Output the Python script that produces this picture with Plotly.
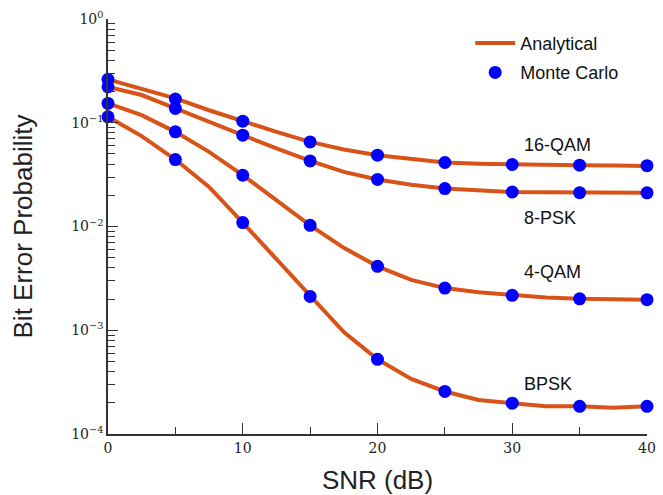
import math
import plotly.graph_objects as go

snr_fine = [0, 2.5, 5, 7.5, 10, 12.5, 15, 17.5, 20, 22.5, 25, 27.5, 30, 32.5, 35, 37.5, 40]
snr_mc = [0, 5, 10, 15, 20, 25, 30, 35, 40]

ana_16qam = [0.262, 0.214, 0.172, 0.132, 0.1036, 0.0817, 0.0654, 0.0553, 0.0487, 0.0445,
             0.0414, 0.0403, 0.0396, 0.0392, 0.0390, 0.0387, 0.0384]
ana_8psk = [0.222, 0.185, 0.1374, 0.102, 0.0759, 0.0565, 0.0429, 0.0336, 0.0284, 0.0253,
            0.0232, 0.0222, 0.0215, 0.0214, 0.0212, 0.0211, 0.0211]
ana_4qam = [0.1536, 0.1184, 0.0817, 0.0524, 0.0312, 0.0179, 0.01027, 0.00623, 0.00413, 0.00306,
            0.00255, 0.00232, 0.00217, 0.00207, 0.00201, 0.00198, 0.00197]
ana_bpsk = [0.114, 0.0743, 0.0442, 0.0241, 0.0109, 0.00482, 0.00212, 0.00096, 0.000525, 0.00034,
            0.000257, 0.000213, 0.000198, 0.000185, 0.000185, 0.000179, 0.000185]

mc_16qam = [0.262, 0.169, 0.1036, 0.0654, 0.0487, 0.0414, 0.0396, 0.0390, 0.0386]
mc_8psk = [0.222, 0.1374, 0.0759, 0.0429, 0.0284, 0.0232, 0.0215, 0.0212, 0.0211]
mc_4qam = [0.1536, 0.0817, 0.0312, 0.01027, 0.00413, 0.00255, 0.00217, 0.00201, 0.00197]
mc_bpsk = [0.114, 0.0442, 0.0109, 0.00212, 0.000525, 0.000257, 0.000198, 0.000185, 0.000185]

labels = ["16-QAM", "8-PSK", "4-QAM", "BPSK"]
label_y = [0.0608, 0.0120, 0.00361, 0.000306]

ytick_vals = [1e-4, 1e-3, 1e-2, 1e-1, 1]
ytick_text = ["10<sup>\u22124</sup>", "10<sup>\u22123</sup>", "10<sup>\u22122</sup>",
              "10<sup>\u22121</sup>", "10<sup>0</sup>"]
xtick_vals = [0, 10, 20, 30, 40]
xtick_minor = [5, 15, 25, 35]

orange = "#D95319"
blue = "#0000FF"

fig = go.Figure()
ana = [ana_16qam, ana_8psk, ana_4qam, ana_bpsk]
mc = [mc_16qam, mc_8psk, mc_4qam, mc_bpsk]
for i, s in enumerate(ana):
    fig.add_trace(go.Scatter(x=snr_fine, y=s, mode="lines", line=dict(color=orange, width=4),
                             name="Analytical", showlegend=(i == 0), legendgroup="a",
                             cliponaxis=False))
for i, s in enumerate(mc):
    fig.add_trace(go.Scatter(x=snr_mc, y=s, mode="markers",
                             marker=dict(color=blue, size=13, line=dict(width=0)),
                             name="Monte Carlo", showlegend=(i == 0), legendgroup="b",
                             cliponaxis=False))

for lab, yv in zip(labels, label_y):
    fig.add_annotation(x=30.72, y=math.log10(yv), text=lab, showarrow=False,
                       xanchor="left", yanchor="middle",
                       font=dict(family="Liberation Sans, Arial", size=18, color="#111"))

axis_col = "#333333"
tick_font = dict(family="DejaVu Serif, Liberation Serif", size=14, color="#222")
fig.update_layout(
    width=663, height=495,
    margin=dict(l=108, r=16, t=19, b=61),
    plot_bgcolor="white", paper_bgcolor="white",
    showlegend=True,
    legend=dict(x=0.672, y=0.986, xanchor="left", yanchor="top", itemwidth=40,
                font=dict(family="Liberation Sans, Arial", size=18, color="#111"),
                bgcolor="rgba(0,0,0,0)", traceorder="grouped", tracegroupgap=3),
    xaxis=dict(range=[0, 40], tickvals=xtick_vals, ticks="inside", ticklen=11,
               tickcolor=axis_col, tickwidth=1.2, automargin=False,
               showline=True, linecolor=axis_col, linewidth=1.5, showgrid=False, zeroline=False,
               tickfont=tick_font,
               minor=dict(tickvals=xtick_minor, ticks="inside", ticklen=7, tickcolor=axis_col,
                          tickwidth=1.2, showgrid=False),
               title=dict(text="SNR (dB)", standoff=18,
                          font=dict(family="Liberation Sans, Arial", size=26, color="#222"))),
    yaxis=dict(type="log", range=[-4, 0], tickvals=ytick_vals, ticktext=ytick_text,
               ticks="inside", ticklen=10, tickcolor=axis_col, tickwidth=1.2, automargin=False,
               showline=True, linecolor=axis_col, linewidth=1.5, showgrid=False, zeroline=False,
               tickfont=tick_font,
               minor=dict(ticks="inside", ticklen=7, tickcolor=axis_col, tickwidth=1.2,
                          dtick="D1", showgrid=False),
               title=dict(text="Bit Error Probability", standoff=31,
                          font=dict(family="Liberation Sans, Arial", size=26, color="#222"))),
)

fig.write_html("out.html", config={"displayModeBar": False},
               post_script="document.body.style.margin='0';")
